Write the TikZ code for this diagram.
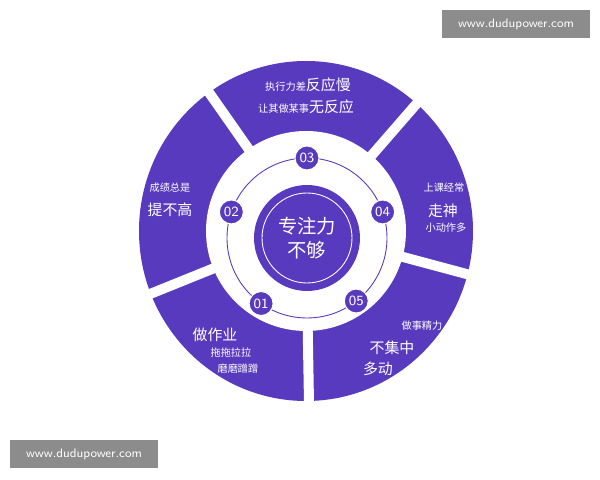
\documentclass[tikz,border=0pt]{standalone}
\usepackage{fontspec}
\newfontfamily\cjk{Noto Sans CJK SC}
\definecolor{violet}{RGB}{88,58,190}
\definecolor{mark}{RGB}{140,140,140}

\begin{document}
\begin{tikzpicture}[x=0.02cm,y=0.02cm,
    small/.style={text=white, font=\cjk\fontsize{5.8}{7}\selectfont},
    big/.style={text=white, font=\cjk\fontsize{8.5}{10}\selectfont},
    num/.style={circle, fill=violet, draw=white, line width=0.6pt, minimum size=0.48cm, inner sep=0pt, text=white, font=\sffamily\fontsize{8}{9}\selectfont},
    gap/.style={white, line width=0.2cm},
    stamp/.style={fill=mark, text=white, font=\sffamily\fontsize{7}{8}\selectfont, minimum width=2.95cm, minimum height=0.56cm, inner sep=0pt}]
    \useasboundingbox (0,0) rectangle (600,480);
    % outer ring with its five cuts
    \coordinate (O) at (306,249);
    \coordinate (C) at (307,242);
    \fill [violet] (O) ellipse (167 and 170);
    \fill [white] (O) circle (100);
    \foreach \a in {125,49,-15,-89,-158}
        \draw [gap] (O) -- ++(\a:180);
    % middle
    \draw [violet, line width=0.5pt] (C) circle (80);
    \node [circle, fill=violet, minimum size=2.12cm] (core) at (C) {};
    \draw [white, line width=0.5pt] (C) circle (45);
    \node [text=white, align=center, font=\cjk\fontsize{11}{14}\selectfont] (title) at (C) {专注力\\不够};
    \node [num] (n1) at ([shift={(235:80)}]C) {01};
    \node [num] (n2) at ([shift={(161:80)}]C) {02};
    \node [num] (n3) at ([shift={(90:80)}]C) {03};
    \node [num] (n4) at ([shift={(19:80)}]C) {04};
    \node [num] (n5) at ([shift={(-52:80)}]C) {05};
    % segment texts
    \node [text=white] (top1) at (308,395) {{\cjk\fontsize{5.8}{7}\selectfont 执行力差}{\cjk\fontsize{8.5}{10}\selectfont 反应慢}};
    \node [text=white] (top2) at (306,373) {{\cjk\fontsize{5.8}{7}\selectfont 让其做某事}{\cjk\fontsize{8.5}{10}\selectfont 无反应}};
    \node [small] (l1) at (170,292) {成绩总是};
    \node [big] (l2) at (170,270) {提不高};
    \node [small] (r1) at (444,292) {上课经常};
    \node [big] (r2) at (443,269) {走神};
    \node [small] (r3) at (446,252) {小动作多};
    \node [big] (bl1) at (215,145) {做作业};
    \node [small] (bl2) at (231,127) {拖拖拉拉};
    \node [small] (bl3) at (238,111) {磨磨蹭蹭};
    \node [small] (br1) at (422,154) {做事精力};
    \node [big] (br2) at (392,132) {不集中};
    \node [big] (br3) at (378,111) {多动};
    % watermarks
    \node [stamp] (w1) at (516,456) {www.dudupower.com};
    \node [stamp] (w2) at (84,26) {www.dudupower.com};
\end{tikzpicture}
\end{document}
